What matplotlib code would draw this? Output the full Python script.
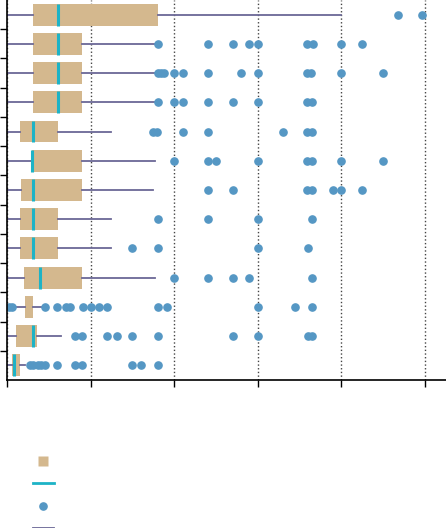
import numpy as np
import matplotlib
matplotlib.use('Agg')
import matplotlib.pyplot as plt
from matplotlib.lines import Line2D

BOX_C = '#d4b88e'
MED_C = '#1db3c6'
FLY_C = '#5597c4'
WHI_C = '#6b6896'

# one row per category, top to bottom
q1 = [0.31, 0.31, 0.31, 0.31, 0.16, 0.30, 0.17, 0.16, 0.16, 0.20, 0.215, 0.11, 0.063]
med = [0.61, 0.61, 0.61, 0.61, 0.31, 0.30, 0.31, 0.31, 0.31, 0.40, np.nan, 0.315, 0.08]
q3 = [1.80, 0.90, 0.90, 0.90, 0.61, 0.90, 0.90, 0.61, 0.61, 0.90, 0.305, 0.355, 0.155]
whislo = [0.0, 0.0, 0.0, 0.0, 0.0, 0.0, 0.0, 0.0, 0.0, 0.0, 0.08, 0.0, 0.0]
whishi = [4.0, 1.77, 1.77, 1.77, 1.24, 1.77, 1.75, 1.24, 1.24, 1.77, 0.415, 0.65, 0.21]
fliers = [
    [4.68, 4.96],
    [1.81, 2.40, 2.70, 2.90, 3.00, 3.59, 3.66, 4.00, 4.25],
    [1.80, 1.84, 1.88, 2.00, 2.10, 2.40, 2.80, 3.00, 3.59, 3.64, 4.00, 4.50],
    [1.80, 2.00, 2.10, 2.40, 2.70, 3.00, 3.59, 3.65],
    [1.75, 1.79, 2.10, 2.40, 3.30, 3.59, 3.65],
    [2.00, 2.40, 2.50, 3.00, 3.59, 3.65, 3.99, 4.50],
    [2.40, 2.70, 3.59, 3.65, 3.90, 4.00, 4.25],
    [1.80, 2.40, 3.00, 3.65],
    [1.50, 1.80, 3.00, 3.60],
    [2.00, 2.40, 2.70, 2.90, 3.65],
    [0.02, 0.055, 0.46, 0.60, 0.70, 0.75, 0.905, 1.01, 1.10, 1.20, 1.81, 1.91,
     3.00, 3.45, 3.65],
    [0.81, 0.90, 1.20, 1.31, 1.50, 1.80, 2.70, 3.00, 3.60, 3.65],
    [0.28, 0.31, 0.37, 0.41, 0.46, 0.60, 0.81, 0.90, 1.50, 1.60, 1.80],
]
x_ticks = [0, 1, 2, 3, 4, 5]

n = len(q1)
stats = [dict(q1=a, med=m, q3=b, whislo=lo, whishi=hi, fliers=f)
         for a, m, b, lo, hi, f in zip(q1, med, q3, whislo, whishi, fliers)]

fig = plt.figure(figsize=(4.46, 5.28), dpi=100)
ax = fig.add_axes([7 / 446, 1 - 380 / 528, 439 / 446, 380 / 528])

ax.bxp(stats, positions=range(n), widths=0.75, orientation='horizontal',
       patch_artist=True, showcaps=False,
       boxprops=dict(facecolor=BOX_C, edgecolor='none', linewidth=0),
       medianprops=dict(color=MED_C, linewidth=2.2),
       whiskerprops=dict(color=WHI_C, linewidth=1.3),
       flierprops=dict(marker='o', markerfacecolor=FLY_C,
                       markeredgecolor=FLY_C, markersize=5.2))

ax.set_xlim(0, 5.25)
ax.set_ylim(n - 0.5, -0.5)
ax.set_xticks(x_ticks)
ax.set_yticks(np.arange(n - 1) + 0.5)
ax.tick_params(labelbottom=False, labelleft=False, length=5, width=1,
               color='black')
ax.xaxis.grid(True, linestyle=':', color='#444444', linewidth=1)
ax.yaxis.grid(False)
ax.set_axisbelow(True)
for s in ['top', 'right']:
    ax.spines[s].set_visible(False)
for s in ['left', 'bottom']:
    ax.spines[s].set_linewidth(1.2)

handles = [
    Line2D([], [], linestyle='none', marker='s', markersize=7.5,
           markerfacecolor=BOX_C, markeredgecolor='none'),
    Line2D([], [], color=MED_C, linewidth=2),
    Line2D([], [], linestyle='none', marker='o', markersize=5.2,
           markerfacecolor=FLY_C, markeredgecolor=FLY_C),
    Line2D([], [], color=WHI_C, linewidth=1.3),
]
fig.legend(handles, ['', '', '', ''], loc='upper left',
           bbox_to_anchor=(33 / 446, 1 - 454 / 528), frameon=False,
           borderpad=0, borderaxespad=0, handlelength=1.5,
           handleheight=1.6, labelspacing=0.33, fontsize=10)

fig.savefig('out.png', dpi=100)
